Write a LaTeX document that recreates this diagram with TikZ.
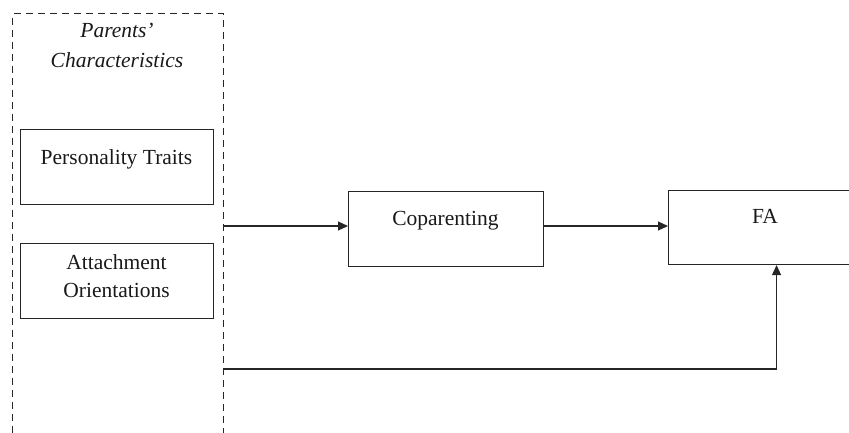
\documentclass[tikz,border=0pt]{standalone}
\usepackage{fontspec}
\setmainfont{Liberation Serif}
\usetikzlibrary{arrows.meta}
\begin{document}
\begin{tikzpicture}[x=1pt,y=-1pt,
  box/.style={draw=black!85,line width=1.1pt,rectangle,inner sep=0pt,anchor=north west},
  grp/.style={box,line width=1.3pt,dash pattern=on 7pt off 5pt},
  lbl/.style={font=\fontsize{21.5}{28}\selectfont,anchor=base,inner sep=0pt,text=black!90},
  conn/.style={draw=black!85,line width=1.1pt,-{Triangle[length=10pt,width=9pt]}}]
\useasboundingbox (0,0) rectangle (849,432);
\clip (0,0) rectangle (849,432);
% group box (bottom runs off the picture)
\node[grp,minimum width=211pt,minimum height=450pt] (pc) at (12,13) {};
\node[lbl,font=\fontsize{21.5}{28}\selectfont\itshape] (pc1) at (117,37.5) {Parents’};
\node[lbl,font=\fontsize{21.5}{28}\selectfont\itshape] (pc2) at (117,67.5) {Characteristics};
% inner boxes
\node[box,minimum width=193pt,minimum height=75pt] (pt) at (20,129) {};
\node[lbl] (ptt) at (116.5,164) {Personality Traits};
\node[box,minimum width=193pt,minimum height=75pt] (ao) at (20,243) {};
\node[lbl] (ao1) at (116.5,269) {Attachment};
\node[lbl] (ao2) at (116.5,297) {Orientations};
% coparenting
\node[box,minimum width=195pt,minimum height=75pt] (cop) at (348,191) {};
\node[lbl] (copt) at (445.5,225) {Coparenting};
% FA (right side runs off the picture)
\node[box,minimum width=216pt,minimum height=74pt] (fa) at (668,190) {};
\node[lbl] (fat) at (765,223) {FA};
% connectors
\draw[conn] (pc.east |- 0,226) -- (cop.west |- 0,226);
\draw[conn] (cop.east |- 0,226) -- (fa.west |- 0,226);
\draw[conn] (pc.east |- 0,369) -| (fa.south);
\end{tikzpicture}
\end{document}
